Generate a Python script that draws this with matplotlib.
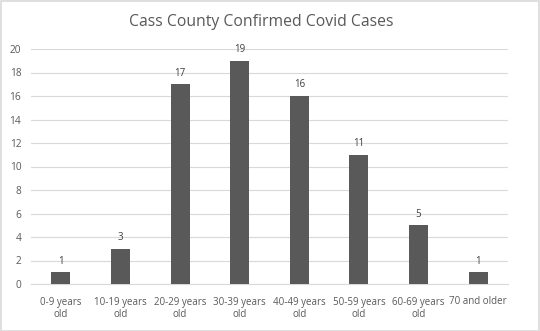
import matplotlib
matplotlib.use("Agg")
import matplotlib.pyplot as plt
from matplotlib.patches import Rectangle

categories = ["0-9 years\nold", "10-19 years\nold", "20-29 years\nold", "30-39 years\nold",
              "40-49 years\nold", "50-59 years\nold", "60-69 years\nold", "70 and older"]
values = [1, 3, 17, 19, 16, 11, 5, 1]
yticks = [0, 2, 4, 6, 8, 10, 12, 14, 16, 18, 20]
title = "Cass County Confirmed Covid Cases"

plt.rcParams['font.family'] = ['Open Sans', 'DejaVu Sans']
txt = '#595959'

fig = plt.figure(figsize=(5.4, 3.31), dpi=100)
ax = fig.add_axes([31/540, 1 - 284/331, (508-31)/540, (284-49)/331])
x = list(range(len(categories)))
bars = ax.bar(x, values, width=0.32, color='#595959', zorder=3)
ax.set_xlim(-0.5, len(categories) - 0.5)
ax.set_ylim(0, 20)
ax.set_yticks(yticks)
ax.set_xticks(x)
ax.set_xticklabels(categories, fontsize=7, color=txt, linespacing=1.15)
ax.tick_params(axis='y', labelsize=7.3, colors=txt, length=0, pad=7)
ax.tick_params(axis='x', length=0, pad=9)
ax.grid(axis='y', color='#d9d9d9', linewidth=0.8, zorder=0)
for s in ['top', 'right', 'left']:
    ax.spines[s].set_visible(False)
ax.spines['bottom'].set_color('#d9d9d9')
for b, v in zip(bars, values):
    ax.annotate(str(v), (b.get_x() + b.get_width()/2, v), xytext=(0, 4),
                textcoords='offset points', ha='center', va='bottom', fontsize=7, color='#404040')
fig.text(261/540, 1 - 22/331, title, ha='center', va='center', fontsize=11.3, color=txt)
fig.patches.append(Rectangle((0.001, 0.001), 0.997, 0.997, transform=fig.transFigure,
                             fill=False, edgecolor='#d9d9d9', linewidth=1.2))
fig.savefig("out.png", dpi=100)
